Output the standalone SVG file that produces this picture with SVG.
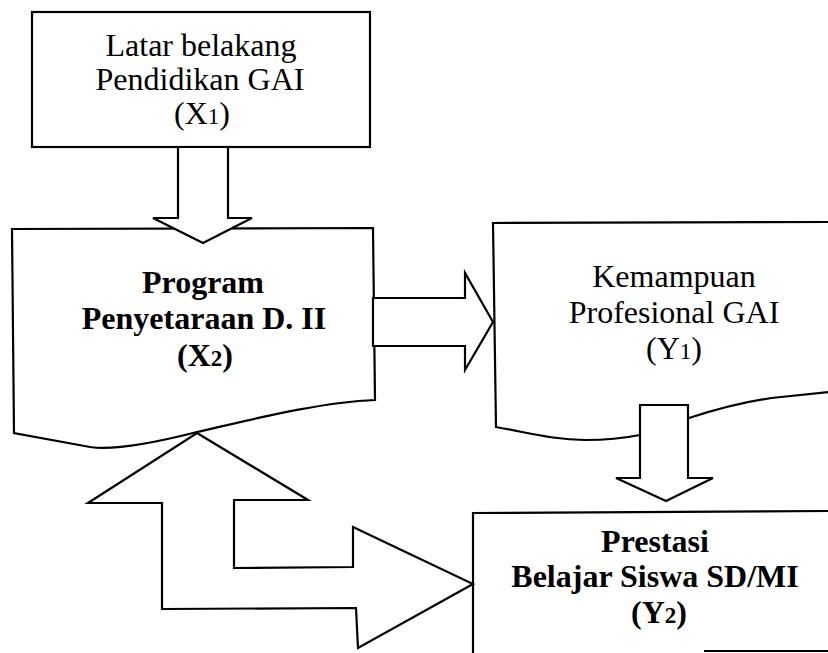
<svg xmlns="http://www.w3.org/2000/svg" width="828" height="653" viewBox="0 0 828 653">
<style>
.s{fill:#fff;stroke:#000;stroke-width:2.2;stroke-linejoin:miter}
.r{font-family:"Liberation Serif","Times New Roman",serif;font-size:32px;fill:#000;text-anchor:middle}
.b{font-family:"Liberation Serif","Times New Roman",serif;font-size:32px;font-weight:bold;fill:#000;text-anchor:middle}
.d{font-size:23px}
</style>
<rect width="828" height="653" fill="#fff"/>
<g id="X1">
<rect class="s" x="32" y="12" width="338" height="135"/>
<text class="r" x="201" y="56">Latar belakang</text>
<text class="r" x="200" y="90">Pendidikan GAI</text>
<text class="r" x="202" y="124">(X<tspan class="d">1</tspan>)</text>
</g>
<g id="X2">
<path class="s" d="M12,229 L373,228 L375,400 C320,402 250,420 197,432 C150,444 110,450 90,447 L14,433 Z"/>
<text class="b" x="203" y="293">Program</text>
<text class="b" x="204" y="329">Penyetaraan D. II</text>
<text class="b" x="205" y="366">(X<tspan class="d">2</tspan>)</text>
</g>
<g id="Y1">
<path class="s" d="M830,222 L493,223 L496,427 C530,433 555,440 585,440 C610,440 630,437 640,435 L689,418 C720,408 750,400 781,397 L830,392"/>
<text class="r" x="674" y="287">Kemampuan</text>
<text class="r" x="674" y="323">Profesional GAI</text>
<text class="r" x="674" y="359">(Y<tspan class="d">1</tspan>)</text>
</g>
<g id="Y2">
<path class="s" d="M473,655 L473,513 L830,511"/>
<path fill="none" stroke="#000" stroke-width="2.2" d="M704,651 L830,651"/>
<text class="b" x="655" y="552">Prestasi</text>
<text class="b" x="655" y="587">Belajar Siswa SD/MI</text>
<text class="b" x="659" y="623">(Y<tspan class="d">2</tspan>)</text>
</g>
<g id="connectors">
<polygon class="s" points="178,147 178,218 153,218 203,243 252,218 228,218 228,147"/>
<polygon class="s" points="373,298 465,298 465,273 493,322 465,370 465,346 373,346"/>
<polygon class="s" points="640,405 640,478 616,478 666,501 713,478 688,478 688,405"/>
<polygon class="s" points="197,433 308,500 234,500 234,568 353,567 353,527 473,584 358,648 356,608 162,609 162,503 88,503"/>
</g>
</svg>
